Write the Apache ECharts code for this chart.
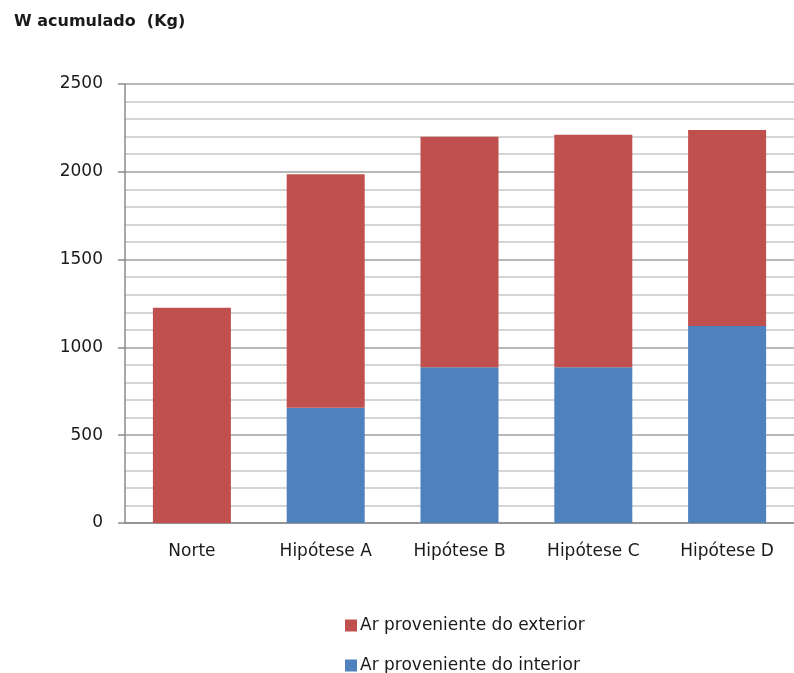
<!DOCTYPE html>
<html>
<head>
<meta charset="utf-8">
<script src="https://cdn.jsdelivr.net/npm/echarts@6/dist/echarts.min.js"></script>
<style>html,body{margin:0;padding:0;background:#fff}#c{width:794px;height:673px}</style>
</head>
<body>
<div id="c"></div>
<script>
const categories = ['Norte', 'Hipótese A', 'Hipótese B', 'Hipótese C', 'Hipótese D'];
const interiorValues = [0, 657, 887, 887, 1122];
const exteriorValues = [1226, 1329, 1313, 1324, 1116];
const seriesNames = ['Ar proveniente do interior', 'Ar proveniente do exterior'];
const yTitle = 'W acumulado  (Kg)';

const FONT = 'DejaVu Sans';
const legendText = {fontFamily: FONT, fontSize: 17, color: '#1a1a1a', padding: [0, 0, 0, -2]};
const chart = echarts.init(document.getElementById('c'), null, {renderer: 'canvas'});
chart.setOption({
  animation: false,
  title: {
    text: yTitle, left: 9, top: 9,
    textStyle: {fontFamily: FONT, fontSize: 16, fontWeight: 'bold', color: '#1a1a1a'}
  },
  legend: [
    {data: [seriesNames[1]], left: 340, top: 612, itemWidth: 12, itemHeight: 12, icon: 'rect', textStyle: legendText},
    {data: [seriesNames[0]], left: 340, top: 652, itemWidth: 12, itemHeight: 12, icon: 'rect', textStyle: legendText}
  ],
  grid: {left: 125, top: 84, width: 678, height: 439, containLabel: false},
  xAxis: {
    type: 'category', data: categories,
    axisLine: {show: true, lineStyle: {color: '#8a8a8a', width: 1.5}},
    axisTick: {show: false},
    axisLabel: {fontFamily: FONT, fontSize: 17, color: '#1a1a1a', margin: 20}
  },
  yAxis: {
    type: 'value', min: 0, max: 2500, interval: 500,
    axisLine: {show: true, lineStyle: {color: '#8a8a8a', width: 1.5}},
    axisTick: {show: true, length: 7, lineStyle: {color: '#8a8a8a', width: 1.5}},
    axisLabel: {fontFamily: FONT, fontSize: 17, color: '#1a1a1a', margin: 22, formatter: v => String(v)},
    splitLine: {show: true, lineStyle: {color: '#a0a0a0', width: 1.5}},
    minorTick: {show: false, splitNumber: 5},
    minorSplitLine: {show: true, lineStyle: {color: '#c8c8c8', width: 1.5}}
  },
  series: [
    {name: seriesNames[0], type: 'bar', stack: 'w', data: interiorValues, barWidth: 78,
     itemStyle: {color: '#4F81BD'}},
    {name: seriesNames[1], type: 'bar', stack: 'w', data: exteriorValues, barWidth: 78,
     itemStyle: {color: '#C0504D'}}
  ]
});
</script>
</body>
</html>
